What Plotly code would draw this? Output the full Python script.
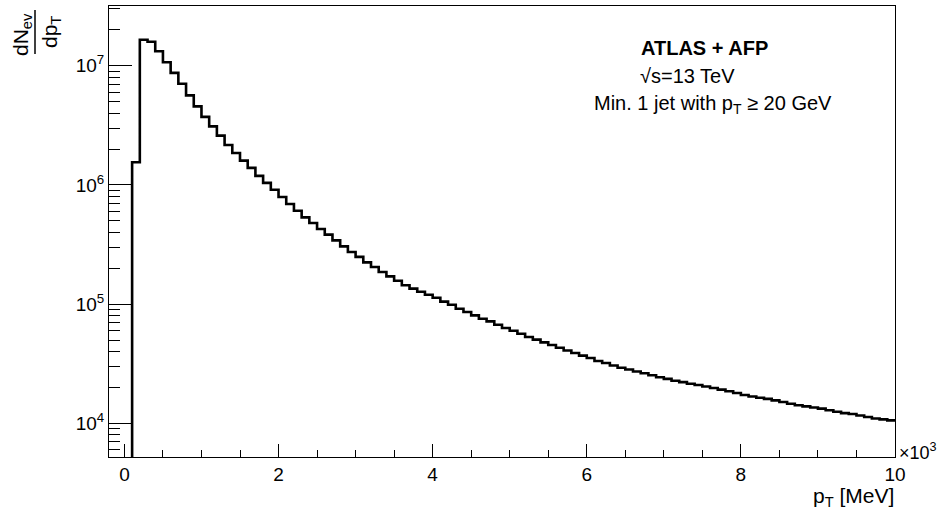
import math
import plotly.graph_objects as go

# Jet transverse-momentum spectrum, 100 MeV bins (lower edges 100 ... 9900 MeV)
bin_width = 100
first_edge = 100
counts = [
    1.55e6, 1.65e7, 1.59e7, 1.32e7, 1.07e7, 8.70e6, 7.06e6, 5.64e6, 4.56e6, 3.72e6,
    3.10e6, 2.59e6, 2.16e6, 1.85e6, 1.60e6, 1.39e6, 1.19e6, 1.04e6, 9.12e5, 7.92e5,
    6.92e5, 6.08e5, 5.34e5, 4.80e5, 4.27e5, 3.83e5, 3.43e5, 3.05e5, 2.74e5, 2.49e5,
    2.24e5, 2.05e5, 1.86e5, 1.71e5, 1.57e5, 1.44e5, 1.35e5, 1.27e5, 1.20e5, 1.13e5,
    1.05e5, 9.89e4, 9.15e4, 8.59e4, 8.05e4, 7.55e4, 7.17e4, 6.72e4, 6.31e4, 5.99e4,
    5.65e4, 5.30e4, 5.04e4, 4.78e4, 4.54e4, 4.31e4, 4.09e4, 3.89e4, 3.70e4, 3.53e4,
    3.34e4, 3.21e4, 3.06e4, 2.93e4, 2.83e4, 2.72e4, 2.63e4, 2.53e4, 2.44e4, 2.36e4,
    2.28e4, 2.22e4, 2.15e4, 2.10e4, 2.04e4, 1.98e4, 1.92e4, 1.86e4, 1.80e4, 1.73e4,
    1.68e4, 1.64e4, 1.605e4, 1.56e4, 1.51e4, 1.46e4, 1.42e4, 1.39e4, 1.36e4, 1.33e4,
    1.29e4, 1.25e4, 1.22e4, 1.20e4, 1.165e4, 1.13e4, 1.10e4, 1.08e4, 1.06e4,
]

x_tick_vals = [0, 2000, 4000, 6000, 8000, 10000]
x_tick_text = ["0", "2", "4", "6", "8", "10"]
y_tick_vals = [1e4, 1e5, 1e6, 1e7]
y_tick_text = ["10<sup>4</sup>", "10<sup>5</sup>", "10<sup>6</sup>", "10<sup>7</sup>"]

x_range = [-200, 10000]
log_y_range = [3.718, 7.5007]

# histogram outline: rise from the frame floor, then one step per bin
floor = 10 ** log_y_range[0]
edges = [first_edge + i * bin_width for i in range(len(counts) + 1)]
step_x = [edges[0]] + edges
step_y = [floor] + counts + [counts[-1]]

# layout geometry (pixels)
W, H = 943, 515
L, R, T, B = 109, 48, 6, 58


def px(xp):
    return (xp - L) / (W - L - R)


def py(yp):
    return (H - B - yp) / (H - T - B)


FONT = "Liberation Sans, Arial, Helvetica, sans-serif"

# log-axis minor ticks at 2..9 x 10^n inside the visible range
minor_y = [k * 10 ** n for n in range(3, 8) for k in range(2, 10)
           if log_y_range[0] <= math.log10(k * 10 ** n) <= log_y_range[1]]

fig = go.Figure()
fig.add_trace(go.Scatter(
    x=step_x, y=step_y, mode="lines", line=dict(color="black", width=2.6, shape="hv"),
    hoverinfo="skip", showlegend=False,
))

fig.update_layout(
    width=W, height=H,
    margin=dict(l=L, r=R, t=T, b=B),
    paper_bgcolor="white", plot_bgcolor="white",
    font=dict(family=FONT, color="black", size=19),
    xaxis=dict(
        range=x_range, showgrid=False, zeroline=False,
        showline=True, linecolor="black", linewidth=1, mirror=True,
        ticks="inside", ticklen=13, tickwidth=1, tickcolor="black",
        tickvals=x_tick_vals, ticktext=x_tick_text,
        tickfont=dict(size=19, family=FONT),
        minor=dict(ticks="inside", ticklen=7, tickwidth=1, tickcolor="black",
                   dtick=500, tick0=0, showgrid=False),
    ),
    yaxis=dict(
        type="log", range=log_y_range, showgrid=False, zeroline=False,
        showline=True, linecolor="black", linewidth=1, mirror=True,
        ticks="inside", ticklen=23, tickwidth=1, tickcolor="black",
        tickvals=y_tick_vals, ticktext=y_tick_text,
        tickfont=dict(size=19, family=FONT),
        minor=dict(ticks="inside", ticklen=11, tickwidth=1, tickcolor="black",
                   tickvals=minor_y, showgrid=False),
    ),
)

annotations = [
    dict(text="<b>ATLAS + AFP</b>", x=px(639), y=py(48), xanchor="left", yanchor="middle",
         font=dict(size=20)),
    dict(text="√s=13 TeV", x=px(638), y=py(76), xanchor="left", yanchor="middle",
         font=dict(size=20)),
    dict(text="Min. 1 jet with p<sub>T</sub> ≥ 20 GeV", x=px(592), y=py(105),
         xanchor="left", yanchor="middle", font=dict(size=20)),
    dict(text="p<sub>T</sub> [MeV]", x=px(896), y=py(497), xanchor="right", yanchor="middle",
         font=dict(size=21)),
    dict(text="×10<sup>3</sup>", x=px(897), y=py(451), xanchor="left", yanchor="middle",
         font=dict(size=18)),
    dict(text="dN<sub>ev</sub>", x=px(22), y=py(35), xanchor="center", yanchor="middle",
         textangle=-90, font=dict(size=21)),
    dict(text="dp<sub>T</sub>", x=px(51), y=py(32), xanchor="center", yanchor="middle",
         textangle=-90, font=dict(size=21)),
]
for a in annotations:
    a.update(xref="paper", yref="paper", showarrow=False)
fig.update_layout(annotations=annotations)

# fraction bar of the y-axis title
fig.add_shape(type="line", xref="paper", yref="paper",
              x0=px(35), x1=px(35), y0=py(10), y1=py(54),
              line=dict(color="black", width=1.5))

fig.write_html("out.html")
